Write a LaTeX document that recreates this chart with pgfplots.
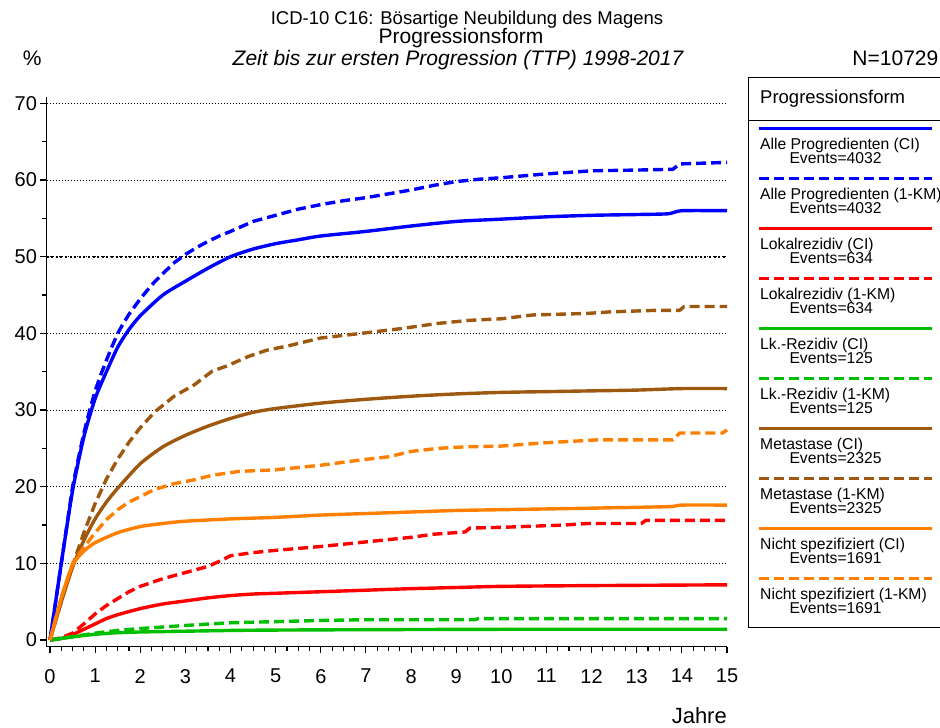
\documentclass[border=0pt]{standalone}
\usepackage{pgfplots}
\pgfplotsset{compat=1.18}
\usepackage{fontspec}
\setmainfont{Liberation Sans}
\definecolor{cblue}{RGB}{0,0,255}
\definecolor{cred}{RGB}{255,0,0}
\definecolor{cgreen}{RGB}{0,190,0}
\definecolor{cbrown}{RGB}{158,88,16}
\definecolor{corange}{RGB}{255,128,0}
\tikzset{
  solidc/.style={line width=3.4bp, line join=round},
  dashc/.style={line width=3.4bp, line join=round, dash pattern=on 10bp off 5bp},
}
\begin{document}
\begin{tikzpicture}
\begin{axis}[
  at={(46.5bp,81.3bp)}, anchor=south west,
  scale only axis, width=680.5bp, height=550bp,
  xmin=-0.078, xmax=15, ymin=-0.87, ymax=70.87,
  axis x line*=bottom, axis y line*=left,
  axis line style={line width=1.3bp, black},
  xtick={0,...,15}, minor x tick num=3,
  ytick={10,20,...,70}, minor y tick num=1,
  extra y ticks={0}, extra y tick style={ymajorgrids=false},
  tick align=outside,
  major tick length=6bp, minor tick length=4bp,
  every tick/.style={black, line width=1.1bp},
  ymajorgrids,
  major grid style={black, line width=1bp, dash pattern=on 1bp off 2bp},
  /pgf/number format/assume math mode=true,
  tick label style={font=\fontsize{20bp}{22bp}\selectfont},
  xticklabel style={yshift=-13bp},
  clip=false,
]
\draw[black, line width=2.2bp, dash pattern=on 2bp off 2.6bp] (axis cs:-0.078,50) -- (axis cs:15,50);
% Alle Progredienten (CI)
\addplot[cblue, solidc, smooth, tension=0.4] coordinates {(0,0)(0.1,4)(0.25,10)(0.5,19.5)(0.75,26.5)(1,31.5)(1.25,35)(1.5,38.2)(1.75,40.5)(2,42.3)(2.5,45)(3,46.8)(3.5,48.5)(4,50)(4.5,51)(5,51.7)(5.5,52.2)(6,52.7)(7,53.3)(8,54)(9,54.6)(10,54.9)(11,55.2)(12,55.4)(13,55.5)(13.7,55.6)(14,56)(15,56)};
% Alle Progredienten (1-KM)
\addplot[cblue, dashc] coordinates {(0,0)(0.1,4)(0.25,10)(0.5,20)(0.625,23.6)(0.75,27)(0.875,29.9)(1,32.5)(1.125,34.6)(1.25,36.5)(1.375,38.3)(1.5,40)(1.625,41.3)(1.75,42.5)(1.875,43.5)(2,44.5)(2.25,46.3)(2.5,47.8)(2.75,49.2)(3,50.3)(3.25,51.2)(3.5,52)(3.75,52.7)(4,53.3)(4.5,54.6)(5,55.4)(5.5,56.2)(6,56.8)(6.5,57.3)(7,57.7)(7.5,58.2)(8,58.7)(8.5,59.3)(9,59.8)(9.5,60.1)(10,60.3)(11,60.8)(12,61.2)(13,61.3)(13.8,61.4)(13.95,62.1)(15,62.3)};
% Lokalrezidiv (CI)
\addplot[cred, solidc, smooth, tension=0.4] coordinates {(0,0)(0.25,0.2)(0.5,0.7)(0.75,1.4)(1,2.1)(1.25,2.8)(1.5,3.3)(2,4.1)(2.5,4.7)(3,5.1)(3.5,5.5)(4,5.8)(4.5,6.0)(5,6.1)(6,6.3)(7,6.5)(8,6.7)(9,6.85)(10,7.0)(12,7.1)(15,7.2)};
% Lokalrezidiv (1-KM)
\addplot[cred, dashc] coordinates {(0,0)(0.25,0.3)(0.5,0.9)(0.75,2.1)(1,3.4)(1.25,4.5)(1.5,5.4)(1.75,6.3)(2,7.0)(2.5,8.0)(3,8.8)(3.5,9.6)(3.8,10.4)(4,11.0)(4.5,11.4)(5,11.7)(6,12.2)(7,12.8)(8,13.4)(8.5,13.8)(9.2,14.1)(9.3,14.6)(10,14.7)(11.4,15.0)(11.9,15.2)(13.1,15.2)(13.2,15.6)(15,15.6)};
% Lk.-Rezidiv (CI)
\addplot[cgreen, solidc, smooth, tension=0.4] coordinates {(0,0)(0.5,0.4)(1,0.75)(1.5,0.95)(2,1.05)(3,1.15)(4,1.25)(5,1.3)(7,1.35)(10,1.4)(15,1.4)};
% Lk.-Rezidiv (1-KM)
\addplot[cgreen, dashc] coordinates {(0,0)(0.5,0.45)(1,0.9)(1.5,1.25)(2,1.5)(3,1.9)(4,2.25)(5,2.4)(6,2.55)(7,2.65)(9.4,2.65)(9.5,2.8)(15,2.8)};
% Metastase (CI)
\addplot[cbrown, solidc, smooth, tension=0.4] coordinates {(0,0)(0.25,5)(0.5,9.5)(0.75,13)(1,15.8)(1.25,18)(1.5,19.8)(2,23)(2.5,25.2)(3,26.7)(3.5,27.9)(4,28.9)(4.5,29.7)(5,30.2)(6,30.9)(7,31.4)(8,31.8)(9,32.1)(10,32.3)(11,32.4)(12,32.5)(13,32.6)(14,32.8)(15,32.8)};
% Metastase (1-KM)
\addplot[cbrown, dashc] coordinates {(0,0)(0.25,5)(0.5,9.7)(0.75,14)(1,17.8)(1.25,21)(1.5,23.6)(1.75,25.8)(2,27.7)(2.33,29.8)(2.75,31.8)(3.2,33.3)(3.6,35.1)(3.9,35.7)(4.4,37)(4.8,37.8)(5.3,38.4)(6,39.4)(6.9,40)(7.75,40.6)(8.6,41.3)(9.3,41.7)(10,41.9)(10.7,42.4)(11.9,42.6)(12.4,42.8)(13.4,43.0)(13.95,43.0)(14.05,43.5)(15,43.5)};
% Nicht spezifiziert (CI)
\addplot[corange, solidc, smooth, tension=0.4] coordinates {(0,0)(0.25,5.5)(0.5,9.8)(0.75,11.6)(1,12.7)(1.5,14)(2,14.8)(2.5,15.2)(3,15.5)(4,15.8)(5,16.0)(6,16.3)(7,16.5)(8,16.7)(9,16.9)(10,17.0)(12,17.2)(13.7,17.4)(14,17.6)(15,17.6)};
% Nicht spezifiziert (1-KM)
\addplot[corange, dashc] coordinates {(0,0)(0.25,5.5)(0.5,10)(0.75,12.1)(1,14)(1.25,15.7)(1.5,17)(1.75,18)(2,18.7)(2.3,19.6)(2.75,20.4)(3.2,20.9)(3.6,21.5)(4.2,22)(5,22.2)(6,22.8)(6.9,23.5)(7.5,23.9)(8,24.6)(8.6,25.0)(9.2,25.2)(10,25.3)(10.9,25.7)(12.1,26.1)(13.8,26.1)(13.95,27.0)(14.9,27.0)(15,27.4)};
\end{axis}
% titles
\node[anchor=base, inner sep=0] at (467bp,703bp) {\fontsize{18.5bp}{20bp}\selectfont ICD-10 C16: Bösartige Neubildung des Magens};
\node[anchor=base, inner sep=0] at (461bp,684bp) {\fontsize{21bp}{23bp}\selectfont Progressionsform};
\node[anchor=base, inner sep=0] at (458bp,662.5bp) {\fontsize{21bp}{23bp}\selectfont\itshape Zeit bis zur ersten Progression (TTP) 1998-2017};
\node[anchor=base west, inner sep=0] at (22.7bp,662.5bp) {\fontsize{21bp}{23bp}\selectfont \%};
\node[anchor=base east, inner sep=0] at (938.5bp,662.5bp) {\fontsize{21bp}{23bp}\selectfont N=10729};
\node[anchor=base east, inner sep=0] at (727bp,5bp) {\fontsize{22bp}{24bp}\selectfont Jahre};
% legend
\draw[black, line width=1.4bp] (748.3bp,100.7bp) rectangle (960bp,650.7bp);
\draw[black, line width=1.2bp] (748.3bp,607.3bp) -- (960bp,607.3bp);
\node[anchor=base west, inner sep=0] at (760bp,624bp) {\fontsize{18.5bp}{20bp}\selectfont Progressionsform};
\foreach \k/\col/\sty/\txt/\ev in {
  0/cblue/solidc/Alle Progredienten (CI)/4032,
  1/cblue/dashc/Alle Progredienten (1-KM)/4032,
  2/cred/solidc/Lokalrezidiv (CI)/634,
  3/cred/dashc/Lokalrezidiv (1-KM)/634,
  4/cgreen/solidc/Lk.-Rezidiv (CI)/125,
  5/cgreen/dashc/Lk.-Rezidiv (1-KM)/125,
  6/cbrown/solidc/Metastase (CI)/2325,
  7/cbrown/dashc/Metastase (1-KM)/2325,
  8/corange/solidc/Nicht spezifiziert (CI)/1691,
  9/corange/dashc/Nicht spezifiziert (1-KM)/1691} {
  \draw[\col, \sty, line width=3bp] (759.3bp,599.7bp-\k*50bp) -- (931.7bp,599.7bp-\k*50bp);
  \node[anchor=base west, inner sep=0] at (760bp,578.5bp-\k*50bp) {\fontsize{15.7bp}{18bp}\selectfont \txt};
  \node[anchor=base west, inner sep=0] at (789.3bp,564bp-\k*50bp) {\fontsize{15.7bp}{18bp}\selectfont Events=\ev};
}
\pgfresetboundingbox
\path[use as bounding box] (0bp,0bp) rectangle (940bp,728bp);
\end{tikzpicture}
\end{document}
